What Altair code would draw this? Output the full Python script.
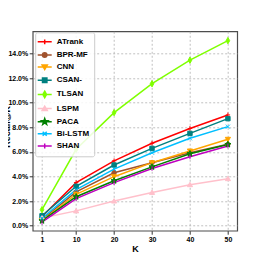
import altair as alt
import pandas as pd

ks = [1, 10, 20, 30, 40, 50]
models = ["ATrank", "BPR-MF", "CNN", "CSAN-", "TLSAN", "LSPM", "PACA", "Bi-LSTM", "SHAN"]
colors = ["#ff0000", "#a0522d", "#ffa500", "#008080", "#7fff00", "#ffc0cb", "#008000", "#00bfff", "#bf00bf"]

atrank = [0.75, 3.50, 5.27, 6.70, 7.90, 9.00]
bprmf = [0.50, 2.75, 4.30, 5.12, 5.93, 6.62]
cnn = [0.42, 2.55, 3.98, 5.12, 6.07, 7.02]
csan = [0.80, 3.20, 4.93, 6.28, 7.50, 8.70]
tlsan = [1.30, 6.21, 9.19, 11.54, 13.45, 15.04]
lspm = [0.62, 1.20, 2.00, 2.70, 3.33, 3.82]
paca = [0.40, 2.35, 3.65, 4.78, 5.85, 6.60]
bilstm = [0.60, 2.93, 4.60, 5.93, 7.10, 8.05]
shan = [0.28, 2.20, 3.50, 4.65, 5.60, 6.48]
series = [atrank, bprmf, cnn, csan, tlsan, lspm, paca, bilstm, shan]

# marker shapes (normalized symbol coordinates)
markers = [
    "M-0.55,0H0.55M0,-0.6V0.6",
    "M0.55,0A0.55,0.55,0,1,1,-0.55,0A0.55,0.55,0,1,1,0.55,0Z",
    "M-0.65,-0.5L0.65,-0.5L0,0.6Z",
    "M-0.55,-0.55H0.55V0.55H-0.55Z",
    "M0,-0.8L0.45,0L0,0.8L-0.45,0Z",
    "M-0.65,0.5L0.65,0.5L0,-0.6Z",
    "M0,-0.8L0.188,-0.259L0.761,-0.247L0.304,0.099L0.470,0.647L0,0.32L-0.470,0.647L-0.304,0.099L-0.761,-0.247L-0.188,-0.259Z",
    "M-0.5,-0.5L0.5,0.5M-0.5,0.5L0.5,-0.5",
    "M0,-0.6V0.6",
]
legend_shapes = ["M-1.75,0H1.75" + m for m in markers]

rows = []
for name, vals in zip(models, series):
    for k, v in zip(ks, vals):
        rows.append({"model": name, "K": k, "recall": v / 100.0})
df = pd.DataFrame(rows)

FONT = "Liberation Sans"

x = alt.X("K:Q", scale=alt.Scale(domain=[-1.45, 52.45], nice=False, zero=False),
          axis=alt.Axis(values=ks, title="K", format="d"))
y = alt.Y("recall:Q", scale=alt.Scale(domain=[-0.0041, 0.158], nice=False, zero=False),
          axis=alt.Axis(values=[0, 0.02, 0.04, 0.06, 0.08, 0.10, 0.12, 0.14], format=".1%",
                        title="Recall@K", titleX=-21.7, titleBaseline="bottom", titleAngle=270,
                        titleY=95))

color_scale = alt.Scale(domain=models, range=colors)

lines = alt.Chart(df).mark_line(strokeWidth=1.5).encode(
    x=x, y=y,
    color=alt.Color("model:N", scale=color_scale, legend=None),
    order=alt.Order("K:Q"),
)

points = alt.Chart(df).mark_point(filled=True, size=64, strokeWidth=1, opacity=1).encode(
    x=x, y=y,
    fill=alt.Fill("model:N", scale=color_scale, legend=None),
    stroke=alt.Stroke("model:N", scale=color_scale, legend=None),
    shape=alt.Shape("model:N", scale=alt.Scale(domain=models, range=markers), legend=None),
)

leg = alt.Legend(
    title=None, orient="none", legendX=2.5, legendY=1.0,
    symbolSize=64, symbolStrokeWidth=1.5, symbolOpacity=1,
    labelFont=FONT, labelFontWeight="bold", labelFontSize=8, labelColor="#000000",
    labelOffset=7, rowPadding=1.15, padding=4.5,
    strokeColor="#cccccc", fillColor="rgba(255,255,255,0.85)", cornerRadius=2,
)

legend_layer = alt.Chart(df).mark_point(filled=True, strokeWidth=1.5, opacity=1).encode(
    x=x, y=y,
    fill=alt.Fill("model:N", scale=color_scale, legend=leg),
    stroke=alt.Stroke("model:N", scale=color_scale, legend=leg),
    shape=alt.Shape("model:N", scale=alt.Scale(domain=models, range=legend_shapes), legend=leg),
).transform_filter("false")

chart = alt.layer(lines, points, legend_layer).resolve_scale(
    fill="independent", stroke="independent", shape="independent"
).properties(
    width=204.5, height=199.4,
    autosize=alt.AutoSizeParams(type="none"),
    padding={"left": 24.7, "top": 23.3, "right": 18.8, "bottom": 33},
).configure_view(
    stroke="#4d4d4d", strokeWidth=1.2
).configure_axis(
    labelFont=FONT, labelFontWeight="bold", labelFontSize=7, labelColor="#000000",
    titleFont=FONT, titleFontWeight="bold", titleFontSize=9, titleColor="#000000",
    grid=True, gridColor="#b0b0b0", gridDash=[2, 2], gridWidth=0.8,
    domain=False, tickColor="#333333", tickSize=3.5, tickWidth=1, labelPadding=1.5,
).configure_axisX(
    titlePadding=2
)

chart.save("out.html", embed_options={"renderer": "svg", "actions": False})
